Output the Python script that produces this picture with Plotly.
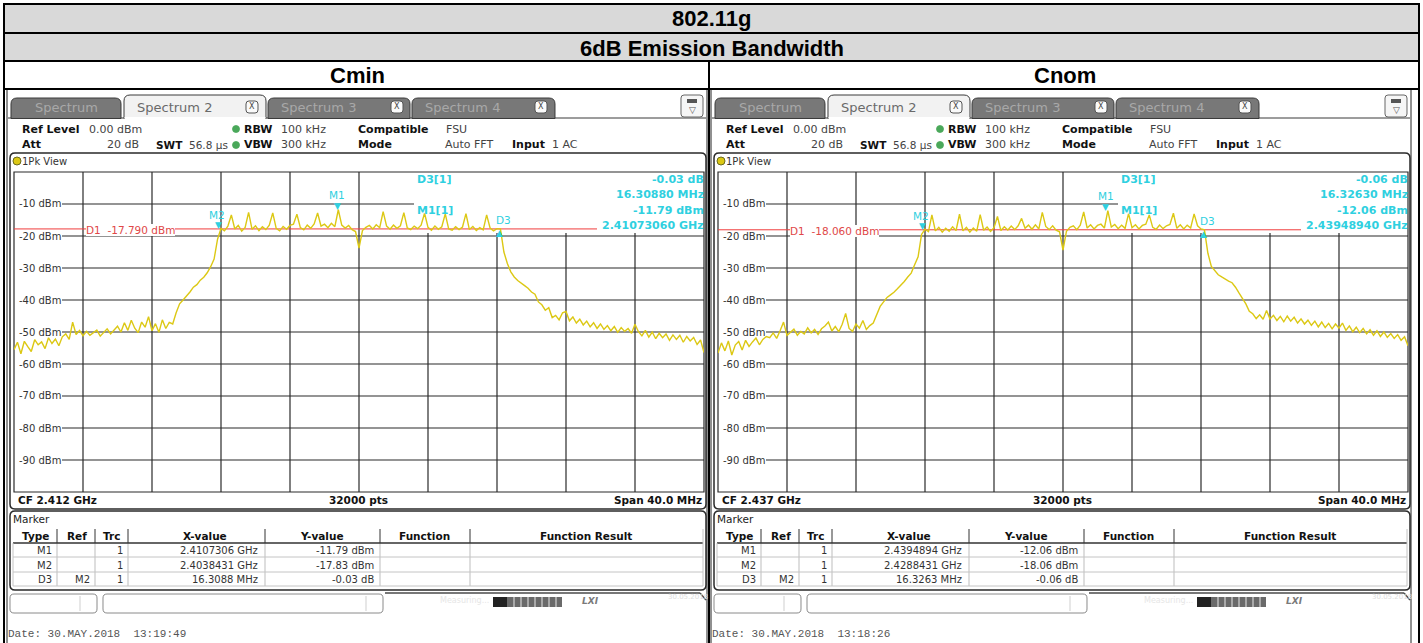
import plotly.graph_objects as go
import numpy as np

W, H = 1423, 643

# ------------------------------------------------------------------ data
main_title = "802.11g"
sub_title = "6dB Emission Bandwidth"
panel_names = ["Cmin", "Cnom"]
center_ghz = [2.412, 2.437]
span_mhz = 40.0
sweep_pts = 32000
y_tick_dbm = [-10, -20, -30, -40, -50, -60, -70, -80, -90]

d1_dbm = [-17.790, -18.060]
m1_ghz = [2.4107306, 2.4394894]
m1_dbm = [-11.79, -12.06]
m2_ghz = [2.4038431, 2.4288431]
m2_dbm = [-17.83, -18.06]
d3_delta_mhz = [16.3088, 16.3263]
d3_delta_db = [-0.03, -0.06]
date_text = ["Date: 30.MAY.2018\u00a0\u00a013:19:49", "Date: 30.MAY.2018\u00a0\u00a013:18:26"]

# trace levels (dBm), read every 0.2 MHz across the 40 MHz span
cmin_dbm = [
    -55.5, -53.2, -56.8, -52.9, -54.6, -56.1, -52.4, -54.0, -53.1, -55.2, -51.8, -53.6, -52.2, -54.3, -51.5,
    -50.6, -52.3, -46.9, -50.8, -49.5, -51.2,
    -49.8, -51.0, -50.2, -49.4, -51.3, -50.1, -49.0, -50.6, -49.3,
    -48.2, -50.0, -47.1, -49.5, -46.3, -48.8, -50.2, -46.9, -48.5, -45.2, -49.6, -47.4, -50.1, -46.2, -48.9, -47.0,
    -47.5, -44.0, -41.2, -40.0, -38.9, -37.5, -36.0, -35.2, -33.8, -32.9, -31.5, -29.6, -27.2, -21.0,
    -17.6, -18.4, -16.9, -13.4, -17.8, -16.7, -18.5, -17.3, -12.6, -17.9,
    -16.8, -18.3, -17.1, -18.0, -16.6, -12.8, -17.6, -18.4, -17.0, -17.9,
    -16.7, -16.3, -13.2, -17.4, -18.1, -16.6, -17.6, -16.2, -12.8, -16.9,
    -16.3, -17.4, -16.0, -17.1, -11.8, -16.6, -17.5, -16.7, -18.0, -18.6,
    -23.8, -18.3, -17.3, -16.7, -17.8, -16.5, -17.4, -12.4, -16.9, -17.9,
    -16.6, -17.6, -16.8, -12.7, -17.5, -18.0, -16.9, -17.7, -16.6, -12.9,
    -17.3, -18.2, -16.9, -17.9, -17.1, -13.1, -17.8, -18.2, -17.1, -18.0,
    -17.2, -13.0, -18.0, -17.0, -18.3, -17.4, -18.1, -13.4, -17.5, -18.4,
    -17.7,
    -17.8, -25.0, -28.6, -31.2, -32.8, -33.9, -34.6, -35.5, -36.3, -37.5,
    -38.2, -40.6, -41.5, -43.2, -42.4, -45.5, -44.8, -46.2, -44.0, -43.6,
    -46.5, -45.3, -47.2, -46.0, -47.8, -46.6, -48.4, -47.1, -48.9, -47.5,
    -49.2, -48.0, -49.6, -48.3, -50.1, -48.6, -49.8, -48.9, -50.4, -47.6,
    -49.9, -51.2, -49.5, -51.6, -50.0, -52.1, -50.4, -51.8, -50.6, -52.6,
    -50.9, -52.3, -51.0, -53.2, -51.4, -52.8, -51.7, -53.9, -52.5, -56.4,
]

cnom_dbm = [
    -56.6, -53.4, -55.9, -52.8, -57.2, -54.1, -53.0, -55.6, -52.6, -54.5, -53.1, -51.9, -54.0, -52.3, -51.4,
    -51.8, -50.3, -52.0, -49.6, -46.9, -51.1,
    -50.2, -49.1, -51.0, -49.8, -50.6, -48.7, -50.3, -49.2, -50.8,
    -49.0, -48.1, -46.9, -49.7, -48.3, -49.9, -47.6, -44.2, -48.9, -49.8, -47.5, -48.8, -46.4, -49.2, -48.0, -47.2,
    -44.8, -42.0, -40.6, -39.2, -38.4, -37.6, -36.5, -35.4, -34.2, -32.8, -31.6, -29.0, -26.5, -19.5,
    -17.9, -18.6, -13.4, -18.4, -17.3, -18.8, -17.6, -18.5, -17.1, -18.3,
    -13.2, -18.4, -17.3, -18.8, -17.5, -18.5, -13.3, -18.2, -17.2, -18.6,
    -17.4, -13.9, -18.3, -17.1, -18.1, -16.9, -18.0, -16.8, -14.5, -17.6,
    -16.6, -17.9, -16.5, -17.8, -12.6, -17.0, -18.0, -16.8, -18.2, -18.7,
    -24.4, -18.5, -17.3, -16.8, -18.0, -16.6, -12.5, -17.5, -16.5, -17.8,
    -16.7, -16.3, -17.5, -12.1, -17.2, -16.4, -17.7, -16.6, -17.6, -13.0,
    -17.4, -16.5, -17.8, -16.7, -16.3, -13.4, -17.3, -17.9, -16.6, -17.7,
    -16.8, -16.4, -12.9, -17.6, -16.5, -17.8, -16.6, -17.5, -13.1, -16.8,
    -17.8,
    -18.1, -25.4, -29.5, -31.0, -32.1, -32.8, -33.5, -34.1, -34.6, -36.0,
    -37.8, -39.5, -41.2, -43.5, -44.3, -45.8, -44.6, -46.0, -43.3, -45.9,
    -44.8, -46.4, -45.1, -46.8, -45.0, -46.6, -45.4, -47.2, -45.9, -47.5,
    -46.3, -47.9, -46.6, -48.4, -46.9, -48.6, -47.3, -49.0, -47.5, -48.8,
    -47.2, -49.5, -48.1, -49.9, -48.5, -50.2, -48.9, -50.6, -49.3, -51.0,
    -49.6, -51.4, -50.0, -51.7, -50.5, -52.0, -50.8, -52.6, -51.5, -54.3,
]
traces_dbm = [cmin_dbm, cnom_dbm]

# ------------------------------------------------------------------ helpers
shapes, annos = [], []


def px(x):
    return x / W


def py(y):
    return 1 - y / H


def line_px(x0, y0, x1, y1, color="#333", w=1, layer="below"):
    shapes.append(dict(type="line", xref="paper", yref="paper", x0=px(x0), y0=py(y0),
                       x1=px(x1), y1=py(y1), line=dict(color=color, width=w), layer=layer))


def rect_px(x0, y0, x1, y1, fill=None, color=None, w=1, layer="below"):
    shapes.append(dict(type="rect", xref="paper", yref="paper", x0=px(x0), y0=py(y0),
                       x1=px(x1), y1=py(y1), fillcolor=fill or "rgba(0,0,0,0)",
                       line=dict(color=color or "rgba(0,0,0,0)", width=w if color else 0),
                       layer=layer))


def circle_px(cx, cy, r, fill, color=None, w=0.8):
    shapes.append(dict(type="circle", xref="paper", yref="paper", x0=px(cx - r), y0=py(cy + r),
                       x1=px(cx + r), y1=py(cy - r), fillcolor=fill,
                       line=dict(color=color or fill, width=w), layer="below"))


def P(x, y):
    return f"{px(x):.6f},{py(y):.6f}"


def rrect_px(x0, y0, x1, y1, r, fill=None, color="#333", w=1, top_only=False):
    if top_only:
        d = (f"M{P(x0, y1)} L{P(x0, y0 + r)} Q{P(x0, y0)} {P(x0 + r, y0)} "
             f"L{P(x1 - r, y0)} Q{P(x1, y0)} {P(x1, y0 + r)} L{P(x1, y1)} Z")
    else:
        d = (f"M{P(x0 + r, y0)} L{P(x1 - r, y0)} Q{P(x1, y0)} {P(x1, y0 + r)} "
             f"L{P(x1, y1 - r)} Q{P(x1, y1)} {P(x1 - r, y1)} L{P(x0 + r, y1)} "
             f"Q{P(x0, y1)} {P(x0, y1 - r)} L{P(x0, y0 + r)} Q{P(x0, y0)} {P(x0 + r, y0)} Z")
    shapes.append(dict(type="path", xref="paper", yref="paper", path=d,
                       fillcolor=fill or "rgba(0,0,0,0)", line=dict(color=color, width=w),
                       layer="below"))


def txt(x, y, s, size=11, color="#222", family="DejaVu Sans", anchor="left", bg=None, yanchor="middle"):
    a = dict(x=px(x), y=py(y), xref="paper", yref="paper", text=s, showarrow=False,
             xanchor=anchor, yanchor=yanchor, font=dict(size=size, color=color, family=family),
             borderpad=0, borderwidth=0)
    if bg:
        a["bgcolor"] = bg
    annos.append(a)


UI = "DejaVu Sans"
CYAN = "#2fd0e0"
RED = "#f03c3c"
GRID = "#2a2a2a"
YEL = "#dcc814"

# ------------------------------------------------------------------ outer table
rect_px(5, 5, 1418, 33, fill="#d9d9d9")
rect_px(5, 33, 1418, 61, fill="#d9d9d9")
for yy in (4, 33, 61, 89):
    line_px(3, yy, 1420, yy, "#000", 2)
line_px(4, 3, 4, 643, "#000", 2)
line_px(1419, 3, 1419, 643, "#000", 2)
line_px(709, 61, 709, 643, "#000", 2)
txt(711.5, 19, f"<b>{main_title}</b>", 22, "#000", "Liberation Sans", "center")
txt(711.5, 48, f"<b>{sub_title}</b>", 22, "#000", "Liberation Sans", "center")
txt(357, 76, f"<b>{panel_names[0]}</b>", 22, "#000", "Liberation Sans", "center")
txt(1065, 76, f"<b>{panel_names[1]}</b>", 22, "#000", "Liberation Sans", "center")

# ------------------------------------------------------------------ figure
fig = go.Figure()


def panel(i, ox):
    cf = center_ghz[i]
    f0 = cf - span_mhz / 2000.0
    xs = f0 + np.linspace(0.0, span_mhz, len(traces_dbm[i])) / 1000.0
    xa, ya = ("x", "y") if i == 0 else ("x2", "y2")
    fig.add_trace(go.Scatter(x=xs, y=traces_dbm[i], mode="lines", xaxis=xa, yaxis=ya,
                             line=dict(color=YEL, width=1.4), hoverinfo="skip", showlegend=False))

    # screenshot edges
    line_px(7 + ox, 90, 7 + ox, 643, "#222", 1)
    line_px(707 + ox, 90, 707 + ox, 643, "#222", 1)

    # tabs
    tabs = [("Spectrum", 11, 121, False, None), ("Spectrum 2", 124, 266, True, 252),
            ("Spectrum 3", 268, 410, False, 397), ("Spectrum 4", 412, 555, False, 541)]
    line_px(8 + ox, 118, 706 + ox, 118, "#3a3a3a", 1)
    for name, a, b, active, xbox in tabs:
        top = 95 if active else 98
        rrect_px(a + ox, top, b + ox, 118.5, 6, fill="#f2f2f2" if active else "#787878",
                 color="#3a3a3a", w=1, top_only=True)
        if name == "Spectrum":
            cx = (a + b) / 2
        else:
            cx = a + 50
        txt(cx + ox, 107.5, name, 13, "#6a6a6a" if active else "#a8a8a8", UI, "center")
        if xbox:
            rrect_px(xbox - 6 + ox, 101, xbox + 6 + ox, 113, 3, fill="#fafafa", color="#555", w=1)
            txt(xbox + ox, 107, "X", 8, "#444", UI, "center")
    rect_px(124.5 + ox, 117, 265.5 + ox, 119.5, fill="#ffffff")
    rrect_px(681 + ox, 95, 703 + ox, 117, 3, fill="#f6f6f6", color="#666", w=1)
    rect_px(687 + ox, 99, 697 + ox, 103, fill="#555")
    txt(692 + ox, 110.5, "\u25bd", 9, "#555", UI, "center")

    # setting rows
    r1, r2 = 129, 145
    txt(22 + ox, r1, "<b>Ref Level</b>", 11, "#111", UI)
    txt(89 + ox, r1, "0.00 dBm", 11, "#444", UI)
    circle_px(236 + ox, r1, 3.5, "#4aa85a")
    txt(244 + ox, r1, "<b>RBW</b>", 11, "#111", UI)
    txt(281 + ox, r1, "100 kHz", 11, "#444", UI)
    txt(358 + ox, r1, "<b>Compatible</b>", 11, "#111", UI)
    txt(446 + ox, r1, "FSU", 11, "#444", UI)
    txt(22 + ox, r2, "<b>Att</b>", 11, "#111", UI)
    txt(139 + ox, r2, "20 dB", 11, "#444", UI, "right")
    txt(156 + ox, r2, "<b>SWT</b>", 10.5, "#111", UI)
    txt(228 + ox, r2, "56.8 µs", 10.5, "#444", UI, "right")
    circle_px(236 + ox, r2, 3.5, "#4aa85a")
    txt(244 + ox, r2, "<b>VBW</b>", 11, "#111", UI)
    txt(281 + ox, r2, "300 kHz", 11, "#444", UI)
    txt(358 + ox, r2, "<b>Mode</b>", 11, "#111", UI)
    txt(445 + ox, r2, "Auto FFT", 11, "#444", UI)
    txt(512 + ox, r2, "<b>Input</b>", 11, "#111", UI)
    txt(552 + ox, r2, "1 AC", 11, "#444", UI)

    # plot frame
    rrect_px(10 + ox, 153, 706 + ox, 509, 5, color="#2a2a2a", w=1.5)
    circle_px(17 + ox, 161, 4, YEL, "#6a6a20", 1)
    txt(22 + ox, 161, "1Pk View", 10, "#333", UI)

    gx0, gx1, gy0, gy1 = 14 + ox, 704 + ox, 172, 492
    # grid
    for k in range(1, 10):
        xx = gx0 + 69 * k
        line_px(xx, 233 if k >= 6 else gy0, xx, gy1, GRID, 1.2)
    for j, v in enumerate(y_tick_dbm, start=1):
        yy = gy0 + 32 * j
        line_px(gx0 + 48, yy, gx0 + 400 if j == 1 else gx1, yy, GRID, 1.2)
        txt(gx0 + 47, yy, f"{v} dBm", 10, "#333", UI, "right")
    rect_px(gx0, gy0, gx1, gy1, color=GRID, w=1.2)

    # display line D1
    yd1 = gy0 + (-d1_dbm[i]) * 3.2
    line_px(gx0, yd1, gx0 + 583, yd1, RED, 1)
    txt(gx0 + 72, yd1 + 1, f"D1\u00a0\u00a0{d1_dbm[i]:.3f} dBm", 10.5, "#e04848", UI, "left", bg="#ffffff")

    # marker info block
    txt(gx0 + 403, 179, "<b>D3[1]</b>", 11, CYAN, UI)
    txt(gx0 + 403, 210, "<b>M1[1]</b>", 11, CYAN, UI)
    txt(gx1, 179, f"<b>{d3_delta_db[i]:.2f} dB</b>", 11, CYAN, UI, "right")
    txt(gx1, 194.5, f"<b>{d3_delta_mhz[i]:.5f} MHz</b>", 11, CYAN, UI, "right")
    txt(gx1, 210, f"<b>{m1_dbm[i]:.2f} dBm</b>", 11, CYAN, UI, "right")
    txt(gx1, 226, f"<b>{m1_ghz[i]:.8f} GHz</b>", 11, CYAN, UI, "right")

    # markers on the trace
    d3x = m2_ghz[i] + d3_delta_mhz[i] / 1000.0
    d3y = m2_dbm[i] + d3_delta_db[i]
    for mx, my, sym, label, ys, ls, lxs in [
        (m1_ghz[i], m1_dbm[i], "\u25bc", "M1", 4, 15, 0),
        (m2_ghz[i], m2_dbm[i], "\u25bc", "M2", 4, 14, -1),
        (d3x, d3y, "\u25b2", "D3", -4, 9, 4),
    ]:
        annos.append(dict(x=mx, y=my, xref=xa, yref=ya, text=sym, showarrow=False,
                          xanchor="center", yanchor="middle", yshift=ys,
                          font=dict(size=9, color=CYAN, family=UI)))
        annos.append(dict(x=mx, y=my, xref=xa, yref=ya, text=label, showarrow=False,
                          xanchor="center", yanchor="middle", yshift=ls, xshift=lxs,
                          font=dict(size=10.5, color=CYAN, family=UI)))

    # footer of the diagram
    txt(18 + ox, 500, f"<b>CF {cf:.3f} GHz</b>", 10.5, "#111", UI)
    txt(358 + ox, 500, f"<b>{sweep_pts} pts</b>", 10.5, "#111", UI, "center")
    txt(702 + ox, 500, f"<b>Span {span_mhz:.1f} MHz</b>", 10.5, "#111", UI, "right")

    # marker table
    rrect_px(10 + ox, 511, 706 + ox, 590, 5, color="#2a2a2a", w=1.5)
    txt(13 + ox, 519, "Marker", 10.5, "#222", UI)
    seps = [57, 95, 128, 265, 380, 470]
    for s in seps:
        line_px(s + ox, 529, s + ox, 543, "#333", 1)
        line_px(s + ox, 543, s + ox, 586, "#bdbdbd", 1)
    line_px(13 + ox, 543, 703 + ox, 543, "#333", 1.5)
    for yy in (557, 572, 586):
        line_px(13 + ox, yy, 703 + ox, yy, "#c4c4c4", 1)
    line_px(13 + ox, 543, 13 + ox, 586, "#c4c4c4", 1)
    line_px(703 + ox, 529, 703 + ox, 586, "#c4c4c4", 1)
    for hx, ht in [(35, "Type"), (77, "Ref"), (111, "Trc"), (205, "X-value"),
                   (322, "Y-value"), (424, "Function"), (586, "Function Result")]:
        txt(hx + ox, 535.5, f"<b>{ht}</b>", 10.5, "#111", UI, "center")
    rows = [
        ("M1", "", "1", f"{m1_ghz[i]:.7f} GHz", f"{m1_dbm[i]:.2f} dBm"),
        ("M2", "", "1", f"{m2_ghz[i]:.7f} GHz", f"{m2_dbm[i]:.2f} dBm"),
        ("D3", "M2", "1", f"{d3_delta_mhz[i]:.4f} MHz", f"{d3_delta_db[i]:.2f} dB"),
    ]
    for ry, (t, r, c, xv, yv) in zip((550, 565, 579), rows):
        txt(52 + ox, ry, t, 10, "#333", UI, "right")
        if r:
            txt(90 + ox, ry, r, 10, "#333", UI, "right")
        txt(123 + ox, ry, c, 10, "#333", UI, "right")
        txt(258 + ox, ry, xv, 10, "#333", UI, "right")
        txt(374 + ox, ry, yv, 10, "#333", UI, "right")

    # status bar
    rrect_px(10 + ox, 594, 97 + ox, 613, 4, fill="#ffffff", color="#8a8a8a", w=1)
    line_px(80 + ox, 596, 80 + ox, 611, "#cfcfcf", 1)
    rrect_px(103 + ox, 594, 383 + ox, 613, 4, fill="#ffffff", color="#8a8a8a", w=1)
    line_px(366 + ox, 596, 366 + ox, 611, "#cfcfcf", 1)
    line_px(385 + ox, 593, 700 + ox, 593, "#4a4a4a", 1.5)
    line_px(700 + ox, 593, 706 + ox, 600, "#4a4a4a", 1.5)
    txt(440 + ox, 600, "Measuring...", 8, "#e6e6e6", UI)
    rect_px(493 + ox, 597, 562 + ox, 607, fill="#6a6a6a")
    rect_px(493 + ox, 597, 507 + ox, 607, fill="#222222")
    for sx in range(514, 562, 7):
        line_px(sx + ox, 597, sx + ox, 607, "#e8e8e8", 1)
    txt(582 + ox, 601, "<b><i>LXI</i></b>", 9, "#7a7a7a", UI)
    txt(668 + ox, 597, "30.05.2018", 7, "#dddddd", UI)

    # date stamp
    txt(8 + ox, 634, date_text[i], 11, "#555", "Liberation Mono")

    return f0


f0a = panel(0, 0)
f0b = panel(1, 704)

ax_common = dict(visible=False, fixedrange=True)
fig.update_layout(
    width=W, height=H, margin=dict(l=0, r=0, t=0, b=0),
    paper_bgcolor="#ffffff", plot_bgcolor="rgba(0,0,0,0)",
    xaxis=dict(domain=[px(14), px(704)], range=[f0a, f0a + span_mhz / 1000.0], **ax_common),
    yaxis=dict(domain=[py(492), py(172)], range=[-100, 0], **ax_common),
    xaxis2=dict(domain=[px(718), px(1408)], range=[f0b, f0b + span_mhz / 1000.0], **ax_common),
    yaxis2=dict(domain=[py(492), py(172)], range=[-100, 0], anchor="x2", **ax_common),
    shapes=shapes, annotations=annos, showlegend=False,
)
fig.data[1].update(xaxis="x2", yaxis="y2")

fig.write_html("out.html")
